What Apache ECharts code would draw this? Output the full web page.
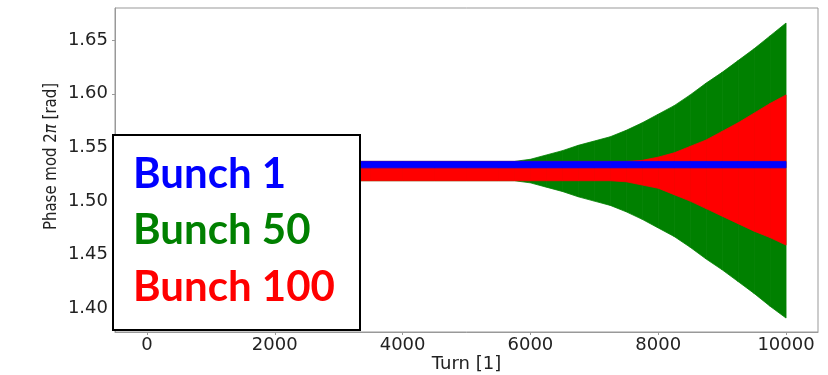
<!DOCTYPE html>
<html>
<head>
<meta charset="utf-8">
<script src="https://cdn.jsdelivr.net/npm/echarts@6/dist/echarts.min.js"></script>
<style>
  html, body { margin: 0; padding: 0; background: #fff; }
  #chart { width: 828px; height: 375px; }
</style>
</head>
<body>
<div id="chart"></div>
<script>
// Turn numbers at which the oscillation envelopes are sampled
const turns = [0, 500, 1000, 1500, 2000, 2500, 3000, 3500, 4000, 4500, 5000,
               5500, 5750, 6000, 6250, 6500, 6750, 7000, 7250, 7500, 7750,
               8000, 8250, 8500, 8750, 9000, 9250, 9500, 9750, 10000];

// Upper / lower envelope of the phase oscillation for each bunch [rad]
const bunch50Upper  = [1.537, 1.537, 1.537, 1.537, 1.537, 1.537, 1.537, 1.537, 1.537, 1.537, 1.537,
                       1.537, 1.537, 1.539, 1.543, 1.547, 1.552, 1.556, 1.560, 1.566, 1.573,
                       1.581, 1.589, 1.599, 1.610, 1.620, 1.631, 1.642, 1.654, 1.666];
const bunch50Lower  = [1.519, 1.519, 1.519, 1.519, 1.519, 1.519, 1.519, 1.519, 1.519, 1.519, 1.519,
                       1.519, 1.519, 1.517, 1.513, 1.509, 1.504, 1.500, 1.496, 1.490, 1.483,
                       1.475, 1.467, 1.457, 1.446, 1.436, 1.425, 1.414, 1.402, 1.391];
const bunch100Upper = [1.537, 1.537, 1.537, 1.537, 1.537, 1.537, 1.537, 1.537, 1.537, 1.537, 1.537,
                       1.537, 1.537, 1.537, 1.537, 1.537, 1.537, 1.537, 1.537, 1.537, 1.538,
                       1.541, 1.545, 1.551, 1.557, 1.565, 1.573, 1.582, 1.591, 1.599];
const bunch100Lower = [1.519, 1.519, 1.519, 1.519, 1.519, 1.519, 1.519, 1.519, 1.519, 1.519, 1.519,
                       1.519, 1.519, 1.519, 1.519, 1.519, 1.519, 1.519, 1.519, 1.518, 1.515,
                       1.512, 1.506, 1.500, 1.493, 1.486, 1.479, 1.472, 1.466, 1.459];
const bunch1Upper   = [1.537, 1.537, 1.537, 1.537, 1.537, 1.537, 1.537, 1.537, 1.537, 1.537, 1.537,
                       1.537, 1.537, 1.537, 1.537, 1.537, 1.537, 1.537, 1.537, 1.537, 1.537,
                       1.537, 1.537, 1.537, 1.537, 1.537, 1.537, 1.537, 1.537, 1.537];
const bunch1Lower   = [1.531, 1.531, 1.531, 1.531, 1.531, 1.531, 1.531, 1.531, 1.531, 1.531, 1.531,
                       1.531, 1.531, 1.531, 1.531, 1.531, 1.531, 1.531, 1.531, 1.531, 1.531,
                       1.531, 1.531, 1.531, 1.531, 1.531, 1.531, 1.531, 1.531, 1.531];

// Tick labels
const xTicks = [0, 2000, 4000, 6000, 8000, 10000];
const yTicks = [1.40, 1.45, 1.50, 1.55, 1.60, 1.65];

const legendNames = ['Bunch 1', 'Bunch 50', 'Bunch 100'];
const colors = ['#0000ff', '#008000', '#ff0000'];

// Filled envelope band: one quad per pair of neighbouring samples
function band(upper, lower, color, z) {
  return {
    type: 'custom', z: z, silent: true, animation: false,
    data: turns.map((t, i) => [t, lower[i], upper[i]]),
    encode: { x: 0, y: [1, 2] },
    renderItem: function (params, api) {
      const i = params.dataIndex;
      if (i >= turns.length - 1) return null;
      const a = api.coord([turns[i], lower[i]]);
      const b = api.coord([turns[i + 1], lower[i + 1]]);
      const c = api.coord([turns[i + 1], upper[i + 1]]);
      const d = api.coord([turns[i], upper[i]]);
      return {
        type: 'polygon',
        shape: { points: [a, b, c, d] },
        style: { fill: color, stroke: color, lineWidth: 0.8 }
      };
    }
  };
}

const chart = echarts.init(document.getElementById('chart'), null, { renderer: 'canvas' });

const axisText = { color: '#222', fontFamily: 'DejaVu Sans', fontSize: 18 };

chart.setOption({
  backgroundColor: '#fff',
  animation: false,
  grid: {
    left: 115, right: 10, top: 8, bottom: 43, containLabel: false, outerBoundsMode: 'none',
    show: true, borderColor: '#999', borderWidth: 1, backgroundColor: 'transparent'
  },
  xAxis: {
    type: 'value', min: -500, max: 10500,
    name: 'Turn [1]', nameLocation: 'middle', nameGap: 23, nameMoveOverlap: false,
    nameTextStyle: { color: '#222', fontFamily: 'DejaVu Sans', fontSize: 18 },
    axisLine: { show: true, onZero: false, lineStyle: { color: '#999', width: 1 } },
    axisTick: { show: true, customValues: xTicks, length: 3, lineStyle: { color: '#999' } },
    axisLabel: Object.assign({ customValues: xTicks, margin: 4, formatter: v => String(v) }, axisText),
    splitLine: { show: false }
  },
  yAxis: {
    type: 'value', min: 1.378, max: 1.680,
    axisLine: { show: true, onZero: false, lineStyle: { color: '#999', width: 1 } },
    axisTick: { show: true, customValues: yTicks, length: 3, lineStyle: { color: '#999' } },
    axisLabel: Object.assign({ customValues: yTicks, margin: 7, formatter: v => v.toFixed(2) }, axisText),
    splitLine: { show: false }
  },
  series: [
    band(bunch50Upper, bunch50Lower, colors[1], 2),
    band(bunch100Upper, bunch100Lower, colors[2], 3),
    band(bunch1Upper, bunch1Lower, colors[0], 4)
  ],
  graphic: [
    {
      // y-axis title, slightly condensed along its reading direction
      type: 'text', x: 52, y: 156.5, rotation: Math.PI / 2, scaleX: 0.88, z: 50,
      style: {
        text: 'Phase mod 2{i|π} [rad]',
        fill: '#222', fontFamily: 'DejaVu Sans', fontSize: 17,
        align: 'center', verticalAlign: 'middle',
        rich: { i: { fontStyle: 'italic', fontFamily: 'DejaVu Sans', fontSize: 17, fill: '#222' } }
      }
    },
    {
      type: 'rect', left: 112, top: 134, z: 100,
      shape: { width: 247, height: 195 },
      style: { fill: '#fff', stroke: '#000', lineWidth: 2 }
    }
  ].concat(legendNames.map((name, i) => ({
    type: 'text', left: 133, top: 153 + i * 56.5, z: 101,
    style: {
      text: name, fill: colors[i],
      fontFamily: 'Lato', fontWeight: 'bold', fontSize: 42
    }
  })))
});
</script>
</body>
</html>
